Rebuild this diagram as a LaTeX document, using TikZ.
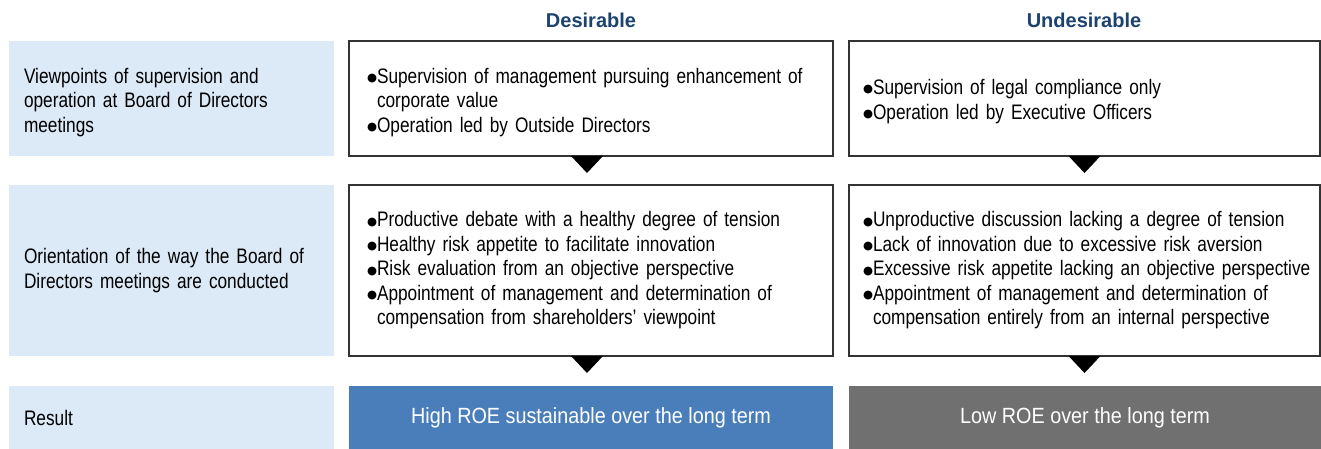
\documentclass[tikz,border=0pt]{standalone}
\usepackage{fontspec}
\setmainfont[FakeStretch=0.822]{Liberation Sans}
\newfontfamily\hdfont{Liberation Sans}
\newfontfamily\resfont[FakeStretch=0.9]{Liberation Sans}
\newfontfamily\dejavu{DejaVu Sans}
\definecolor{lblue}{HTML}{DCE9F6}
\definecolor{resblue}{HTML}{4A7EBB}
\definecolor{resgray}{HTML}{707070}
\definecolor{navy}{HTML}{1C4270}
\definecolor{bord}{HTML}{333333}
\hyphenpenalty=10000
\newcommand\mainf{\fontsize{21}{24.5}\selectfont\hyphenpenalty=10000 }
\newcommand\bul{\raisebox{1.7pt}{\dejavu\fontsize{11.5}{12}\selectfont ●}}
\newcommand\bitem[1]{\noindent\hangindent=10pt\hangafter=1\makebox[10pt][l]{\bul}#1\par}
\newcommand\topup[1]{\rule{0pt}{#1}}
\begin{document}
\begin{tikzpicture}[x=1pt,y=-1pt,
  every node/.style={outer sep=0pt, inner ysep=0pt},
  lbox/.style={fill=lblue, anchor=north west, minimum width=325pt, text width=295pt, inner xsep=15pt, align=left, font=\mainf},
  mbox/.style={draw=bord, line width=1.1pt, anchor=north west, minimum width=484pt, text width=460pt, inner xsep=12pt, align=left, font=\mainf},
  rbox/.style={draw=bord, line width=1.1pt, anchor=north west, minimum width=471pt, text width=465pt, inner xsep=3pt, align=left, font=\mainf},
  resbox/.style={anchor=north west, text=white, align=center, font=\resfont\fontsize{22}{24}\selectfont, minimum height=63pt},
  hd/.style={text=navy, font=\hdfont\bfseries\fontsize{20}{24}\selectfont},
  tri/.style={fill=black}]
\useasboundingbox (0,0) rectangle (1321,449);
% headers
\node[hd] (hdes) at (591,20) {Desirable};
\node[hd] (hund) at (1084,20) {Undesirable};
% row 1
\node[lbox, minimum height=115pt] (l1) at (9,41) {\topup{23pt}Viewpoints of supervision and\\operation at Board of Directors\\meetings};
\node[mbox, minimum height=115pt] (m1) at (349,41) {\leftskip=6pt \bitem{\topup{23pt}Supervision of management pursuing enhancement of\newline corporate value}\bitem{Operation led by Outside Directors}};
\node[rbox, minimum height=115pt] (r1) at (849,41) {\leftskip=11pt \bitem{\topup{21pt}Supervision of legal compliance only}\bitem{Operation led by Executive Officers}};
% row 2
\node[lbox, minimum height=171pt] (l2) at (9,185) {Orientation of the way the Board of\\Directors meetings are conducted};
\node[mbox, minimum height=171pt] (m2) at (349,185) {\leftskip=6pt \bitem{Productive debate with a healthy degree of tension}\bitem{Healthy risk appetite to facilitate innovation}\bitem{Risk evaluation from an objective perspective}\bitem{Appointment of management and determination of\newline compensation from shareholders’ viewpoint}};
\node[rbox, minimum height=171pt] (r2) at (849,185) {\leftskip=11pt \bitem{Unproductive discussion lacking a degree of tension}\bitem{Lack of innovation due to excessive risk aversion}\bitem{Excessive risk appetite lacking an objective perspective}\bitem{Appointment of management and determination of\newline compensation entirely from an internal perspective}};
% row 3
\node[lbox, minimum height=63pt] (l3) at (9,386) {Result};
\node[resbox, fill=resblue, minimum width=484pt] (m3) at (349,386) {High ROE sustainable over the long term};
\node[resbox, fill=resgray, minimum width=472pt] (r3) at (849,386) {Low ROE over the long term};
% triangles
\fill[tri] ([xshift=-20pt]m1.south) -- ([xshift=12pt]m1.south) -- ([xshift=-4pt,yshift=-17pt]m1.south) -- cycle;
\fill[tri] ([xshift=-16pt]r1.south) -- ([xshift=16pt]r1.south) -- ([yshift=-17pt]r1.south) -- cycle;
\fill[tri] ([xshift=-20pt]m2.south) -- ([xshift=12pt]m2.south) -- ([xshift=-4pt,yshift=-17pt]m2.south) -- cycle;
\fill[tri] ([xshift=-16pt]r2.south) -- ([xshift=16pt]r2.south) -- ([yshift=-17pt]r2.south) -- cycle;
\end{tikzpicture}
\end{document}
